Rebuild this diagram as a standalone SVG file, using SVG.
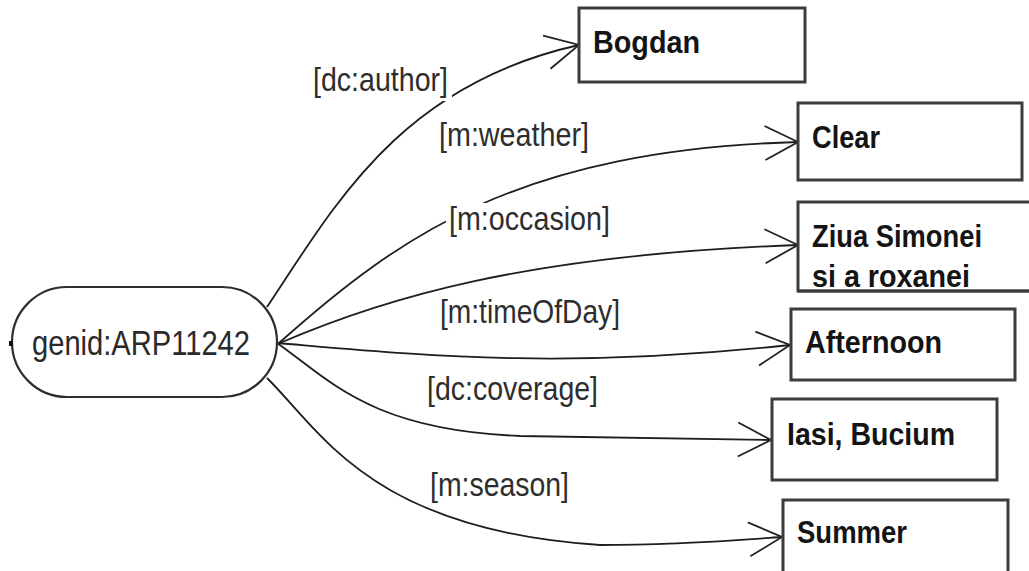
<svg xmlns="http://www.w3.org/2000/svg" width="1029" height="571" viewBox="0 0 1029 571">
<style>
  .box { fill: #ffffff; stroke: #3c3c3c; stroke-width: 3; }
  .btxt { font-family: "Liberation Sans", Arial, sans-serif; font-weight: bold; font-size: 32px; fill: #141414; }
  .lbl { font-family: "Liberation Sans", Arial, sans-serif; font-size: 34px; fill: #2e2e2e; }
  .lblbg { fill: #ffffff; stroke: none; }
  .edge { fill: none; stroke: #1e1e1e; stroke-width: 1.8; marker-end: url(#arr); }
</style>
<defs>
  <marker id="arr" markerUnits="userSpaceOnUse" viewBox="-36 -22 40 44" refX="0" refY="0" markerWidth="40" markerHeight="44" orient="auto">
    <path d="M-33,-17 L0,0 L-33,17" fill="none" stroke="#222" stroke-width="1.8"/>
  </marker>
</defs>
<rect width="1029" height="571" fill="#ffffff"/>

<g id="connectors">
  <path id="e-author" class="edge" d="M267,307 C335,205 400,85 579,45"/>
  <path id="e-weather" class="edge" d="M279,343 C400,235 520,150 798,142"/>
  <path id="e-occasion" class="edge" d="M280,343 C380,300 520,255 798,245"/>
  <path id="e-time" class="edge" d="M277,343 C420,355 560,370 790,345"/>
  <path id="e-coverage" class="edge" d="M277,343 C330,380 370,430 520,436 L771,440"/>
  <path id="e-season" class="edge" d="M267,378 C320,430 370,530 600,545 C680,545 740,540 782,537"/>
</g>

<g id="labels">
  <g id="l-author"><rect class="lblbg" x="310" y="63" width="142" height="38"/><text class="lbl" x="313" y="91" textLength="135" lengthAdjust="spacingAndGlyphs">[dc:author]</text></g>
  <g id="l-weather"><rect class="lblbg" x="436" y="119" width="156" height="36"/><text class="lbl" x="439" y="146" textLength="150" lengthAdjust="spacingAndGlyphs">[m:weather]</text></g>
  <g id="l-occasion"><rect class="lblbg" x="446" y="203" width="167" height="36"/><text class="lbl" x="449" y="230" textLength="161" lengthAdjust="spacingAndGlyphs">[m:occasion]</text></g>
  <g id="l-time"><rect class="lblbg" x="437" y="295" width="186" height="37"/><text class="lbl" x="440" y="323" textLength="180" lengthAdjust="spacingAndGlyphs">[m:timeOfDay]</text></g>
  <g id="l-coverage"><rect class="lblbg" x="424" y="374" width="177" height="35"/><text class="lbl" x="427" y="400" textLength="171" lengthAdjust="spacingAndGlyphs">[dc:coverage]</text></g>
  <g id="l-season"><rect class="lblbg" x="427" y="469" width="145" height="36"/><text class="lbl" x="430" y="496" textLength="139" lengthAdjust="spacingAndGlyphs">[m:season]</text></g>
</g>

<g id="node-genid">
  <rect x="12" y="287" width="265" height="110" rx="55" ry="55" fill="#ffffff" stroke="#2e2e2e" stroke-width="2.2"/>
  <rect x="9" y="341" width="4" height="5" fill="#111"/>
  <text x="32" y="355" font-family="Liberation Sans, Arial, sans-serif" font-size="35" fill="#2a2a2a" textLength="218" lengthAdjust="spacingAndGlyphs">genid:ARP11242</text>
</g>

<g id="node-bogdan">
  <rect class="box" x="579" y="8" width="226" height="74"/>
  <text class="btxt" x="593" y="53" textLength="107" lengthAdjust="spacingAndGlyphs">Bogdan</text>
</g>
<g id="node-clear">
  <rect class="box" x="798" y="103" width="224" height="77"/>
  <text class="btxt" x="812" y="148" textLength="68" lengthAdjust="spacingAndGlyphs">Clear</text>
</g>
<g id="node-ziua">
  <rect class="box" x="798" y="202" width="240" height="89"/>
  <text class="btxt" x="812" y="247" textLength="170" lengthAdjust="spacingAndGlyphs">Ziua Simonei</text>
  <text class="btxt" x="812" y="287" textLength="158" lengthAdjust="spacingAndGlyphs">si a roxanei</text>
  <line x1="798" y1="291" x2="1029" y2="291" stroke="#3c3c3c" stroke-width="3"/>
</g>
<g id="node-afternoon">
  <rect class="box" x="791" y="309" width="224" height="71"/>
  <text class="btxt" x="805" y="353" textLength="137" lengthAdjust="spacingAndGlyphs">Afternoon</text>
</g>
<g id="node-iasi">
  <rect class="box" x="772" y="399" width="225" height="81"/>
  <text class="btxt" x="787" y="445" textLength="168" lengthAdjust="spacingAndGlyphs">Iasi, Bucium</text>
</g>
<g id="node-summer">
  <rect class="box" x="783" y="500" width="225" height="80"/>
  <text class="btxt" x="797" y="543" textLength="110" lengthAdjust="spacingAndGlyphs">Summer</text>
</g>
</svg>
